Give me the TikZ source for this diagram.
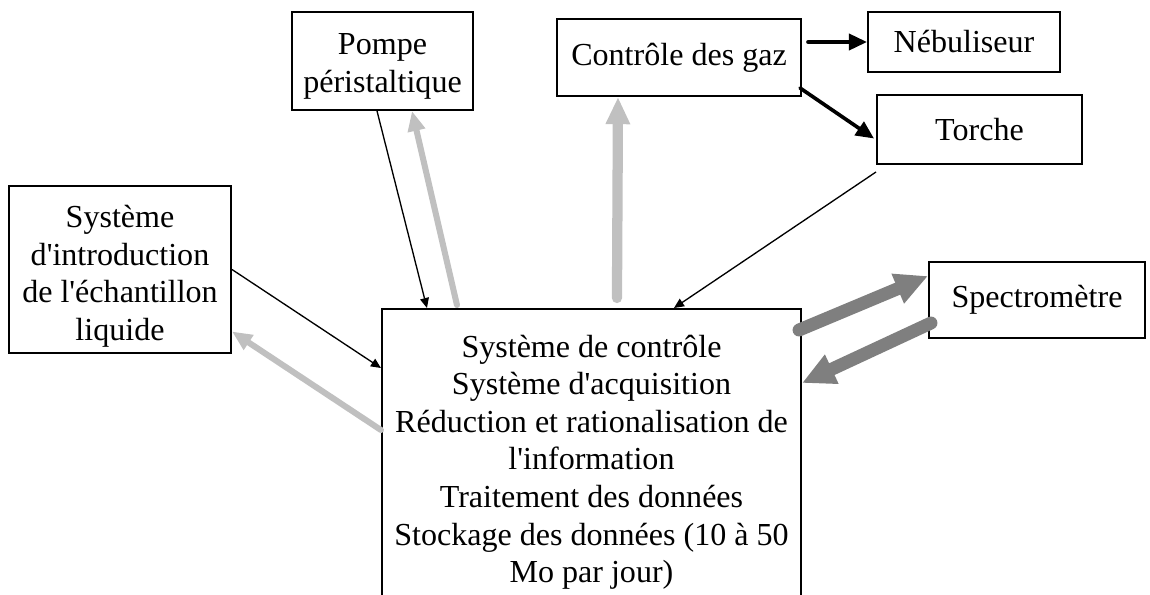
\documentclass[tikz,border=0pt]{standalone}
\usepackage{fontspec}
\setmainfont{Liberation Serif}
\usetikzlibrary{arrows.meta,calc}
\definecolor{grisclair}{HTML}{C0C0C0}
\definecolor{grisfonce}{HTML}{7F7F7F}
\newcommand\apos{\textquotesingle}
\newcommand\haut[1]{\rule{0pt}{#1}}

\begin{document}
\begin{tikzpicture}[x=0.025cm, y=-0.025cm,
        every node/.style={font=\fontsize{22.8pt}{26.7pt}\selectfont},
        boite/.style={draw, line width=1.4pt, align=center, inner sep=0pt},
        fin/.style={line width=0.95pt, >={Triangle[length=0.25cm, width=0.22cm]}},
        epais/.style={line width=2.6pt, line cap=round, >={Triangle[length=0.45cm, width=0.4cm]}},
        clair/.style={grisclair, line width=4.3pt, line cap=round, >={Triangle[length=0.5cm, width=0.42cm]}},
        fonce/.style={grisfonce, line width=9.2pt, line cap=round, >={Triangle[length=0.82cm, width=0.75cm]}}]
    \useasboundingbox (0,0) rectangle (1150,594);
    \clip (0,0) rectangle (1150,594);

    \node[boite, minimum width=4.525cm, minimum height=2.45cm] (pompe) at (382.5,61) {\haut{0.8cm}Pompe\\péristaltique};
    \node[boite, minimum width=6.1cm, minimum height=1.925cm] (gaz) at (679,57.5) {Contrôle des gaz};
    \node[boite, minimum width=4.8cm, minimum height=1.5cm] (nebul) at (964,42) {Nébuliseur};
    \node[boite, minimum width=5.125cm, minimum height=1.725cm] (torche) at (979.5,129.5) {Torche};
    \node[boite, minimum width=5.55cm, minimum height=4.175cm] (intro) at (120,269.5) {\haut{0.9cm}Système\\d\apos introduction\\de l\apos échantillon\\liquide};
    \node[boite, minimum width=5.4cm, minimum height=1.9cm] (spectro) at (1037,300) {Spectromètre};
    \node[boite, anchor=north, minimum width=10.475cm, inner ysep=0.65cm] (controle) at (591.5,308) {Système de contrôle\\Système d\apos acquisition\\Réduction et rationalisation de\\l\apos information\\Traitement des données\\Stockage des données (10 à 50\\Mo par jour)};

    % pompe <-> controle
    \draw[fin, ->] ($(pompe.south)+(-5.5,0)$) -- ($(controle.north west)+(46,0)$);
    \draw[clair, ->] ($(controle.north west)+(76,-3)$) -- ($(pompe.south)+(29.5,0)$);

    % controle -> gaz
    \draw[clair, line width=7.3pt, >={Triangle[length=0.68cm, width=0.57cm]}, ->] ($(controle.north west)+(236,-10)$) -- ($(gaz.south)+(-61,0)$);

    % torche -> controle
    \draw[fin, ->] ($(torche.south west)+(0,7)$) -- ($(controle.north west)+(293,0)$);

    % gaz -> nebul, gaz -> torche
    \draw[epais, ->] ($(gaz.east)+(6,-15.5)$) -- (nebul.west);
    \draw[epais, ->] ($(gaz.south east)+(-2,-9)$) -- ($(torche.west)+(-2,9)$);

    % intro <-> controle
    \draw[fin, ->] (intro.east) -- ($(controle.north west)+(0,60)$);
    \draw[clair, ->] ($(controle.north west)+(0,122)$) -- ($(intro.east)+(0,62)$);

    % controle <-> spectro
    \draw[fonce, ->] ($(controle.north east)+(-3,22)$) -- ($(spectro.north west)+(0,15)$);
    \draw[fonce, ->] ($(spectro.south west)+(3,-16)$) -- ($(controle.north east)+(0,75)$);
\end{tikzpicture}
\end{document}
